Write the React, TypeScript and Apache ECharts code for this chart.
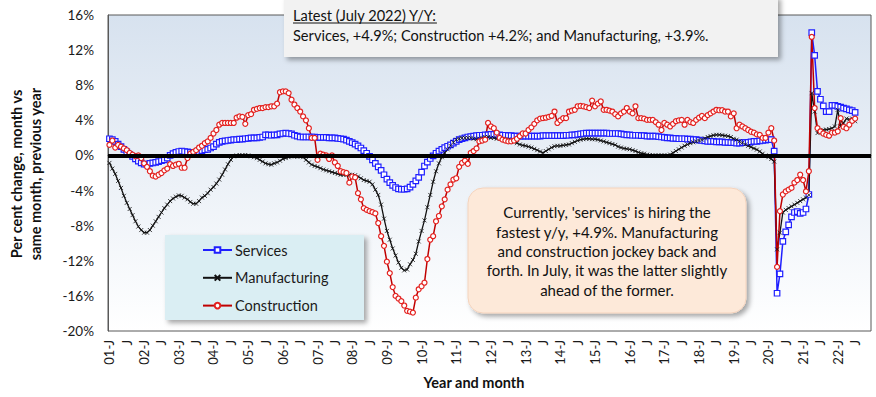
import React, { useEffect, useRef } from "react";
import * as echarts from "echarts";

// Monthly categories, Jan 2001 – Dec 2022 (axis runs a few months past the last data point)
const years: number[] = [];
for (let y = 2001; y <= 2022; y++) years.push(y);
const monthCodes = ["01", "02", "03", "04", "05", "06", "07", "08", "09", "10", "11", "12"];
const categories: string[] = [];
years.forEach((y) => monthCodes.forEach((m) => categories.push(`${y}-${m}`)));

// Y/Y % change, Jan 2001 – Jul 2022
const services: number[] = [
  1.9, 1.8, 1.6, 1.3, 1.0, 0.7, 0.4, 0.1, -0.1, -0.4, -0.65, -0.85, // 2001
  -1.0, -1.05, -0.9, -0.85, -0.8, -0.7, -0.6, -0.5, -0.3, 0.0, 0.2, 0.35, // 2002
  0.45, 0.5, 0.45, 0.4, 0.35, 0.3, 0.35, 0.45, 0.55, 0.65, 0.7, 0.85, // 2003
  1.0, 1.3, 1.5, 1.6, 1.65, 1.7, 1.75, 1.8, 1.8, 1.85, 1.85, 1.9, // 2004
  1.95, 2.0, 2.0, 2.0, 2.05, 2.1, 2.35, 2.35, 2.3, 2.35, 2.35, 2.45, // 2005
  2.5, 2.55, 2.5, 2.45, 2.3, 2.2, 2.1, 2.1, 2.1, 2.1, 2.1, 2.1, // 2006
  2.05, 2.05, 2.05, 2.05, 2.0, 2.0, 2.0, 1.95, 1.9, 1.85, 1.75, 1.6, // 2007
  1.45, 1.3, 1.1, 0.85, 0.55, 0.25, -0.1, -0.5, -0.9, -1.3, -1.7, -2.2, // 2008
  -2.7, -3.1, -3.4, -3.65, -3.8, -3.85, -3.85, -3.8, -3.6, -3.3, -2.9, -2.5, // 2009
  -1.9, -1.2, -0.75, -0.35, -0.05, 0.25, 0.5, 0.7, 0.9, 1.05, 1.2, 1.4, // 2010
  1.6, 1.8, 1.9, 2.0, 2.1, 2.15, 2.2, 2.25, 2.3, 2.3, 2.35, 2.35, // 2011
  2.4, 2.4, 2.35, 2.35, 2.3, 2.3, 2.25, 2.25, 2.2, 2.2, 2.2, 2.2, // 2012
  2.2, 2.2, 2.2, 2.2, 2.2, 2.2, 2.25, 2.25, 2.25, 2.25, 2.25, 2.25, // 2013
  2.25, 2.25, 2.3, 2.3, 2.35, 2.35, 2.4, 2.45, 2.5, 2.55, 2.55, 2.55, // 2014
  2.55, 2.55, 2.55, 2.55, 2.55, 2.5, 2.5, 2.5, 2.5, 2.45, 2.4, 2.35, // 2015
  2.35, 2.3, 2.3, 2.3, 2.25, 2.25, 2.2, 2.2, 2.2, 2.2, 2.15, 2.1, // 2016
  2.05, 2.0, 2.0, 1.95, 1.95, 1.9, 1.9, 1.9, 1.85, 1.85, 1.8, 1.8, // 2017
  1.75, 1.7, 1.65, 1.6, 1.6, 1.6, 1.55, 1.55, 1.55, 1.5, 1.5, 1.45, // 2018
  1.45, 1.4, 1.4, 1.45, 1.45, 1.5, 1.55, 1.6, 1.6, 1.65, 1.7, 1.75, // 2019
  1.8, 1.8, 0.5, -15.7, -13.5, -9.8, -8.7, -7.9, -7.0, -6.5, -6.4, -6.6, // 2020
  -6.5, -6.1, -4.45, 14.0, 11.4, 7.3, 6.4, 5.65, 5.0, 5.0, 5.7, 5.7, // 2021
  5.6, 5.5, 5.4, 5.3, 5.2, 5.1, 4.9, // 2022
];

const manufacturing: number[] = [
  -0.85, -1.5, -2.1, -2.9, -3.7, -4.6, -5.4, -6.1, -6.8, -7.5, -8.1, -8.5, // 2001
  -8.8, -8.8, -8.5, -8.0, -7.5, -7.0, -6.5, -6.0, -5.6, -5.2, -4.9, -4.7, // 2002
  -4.55, -4.6, -4.8, -5.0, -5.3, -5.5, -5.5, -5.2, -4.8, -4.6, -4.3, -3.9, // 2003
  -3.6, -3.2, -2.75, -2.2, -1.6, -1.0, -0.5, -0.1, 0.0, 0.05, 0.0, 0.05, // 2004
  0.0, -0.1, -0.2, -0.3, -0.5, -0.7, -0.9, -1.0, -1.05, -0.9, -0.8, -0.6, // 2005
  -0.4, -0.3, -0.2, -0.1, -0.1, -0.15, -0.1, -0.2, -0.5, -0.8, -1.05, -1.2, // 2006
  -1.3, -1.45, -1.6, -1.7, -1.8, -1.9, -2.0, -2.1, -2.2, -2.2, -2.2, -2.2, // 2007
  -2.2, -2.25, -2.4, -2.6, -2.8, -2.9, -3.0, -3.3, -3.9, -4.5, -5.6, -7.2, // 2008
  -8.6, -9.6, -10.6, -11.4, -12.2, -12.8, -13.1, -13.0, -12.4, -11.9, -11.2, -9.8, // 2009
  -8.6, -7.4, -5.9, -4.5, -3.0, -1.8, -0.9, -0.2, 0.3, 0.7, 1.1, 1.5, // 2010
  1.8, 1.9, 2.0, 2.0, 2.0, 2.0, 1.9, 1.85, 1.9, 2.0, 2.1, 2.1, // 2011
  2.0, 2.0, 1.9, 1.9, 1.9, 1.85, 1.8, 1.7, 1.55, 1.4, 1.25, 1.15, // 2012
  1.1, 1.0, 0.9, 0.75, 0.6, 0.45, 0.3, 0.5, 0.7, 0.9, 1.05, 1.1, // 2013
  1.1, 1.15, 1.2, 1.25, 1.4, 1.55, 1.7, 1.8, 1.85, 1.9, 1.9, 1.85, // 2014
  1.85, 1.8, 1.7, 1.6, 1.5, 1.4, 1.3, 1.2, 1.0, 0.9, 0.8, 0.75, // 2015
  0.7, 0.6, 0.5, 0.35, 0.25, 0.2, 0.1, 0.05, 0.0, 0.0, 0.0, 0.0, // 2016
  0.0, 0.0, 0.1, 0.3, 0.5, 0.7, 0.9, 1.1, 1.25, 1.4, 1.5, 1.6, // 2017
  1.7, 1.8, 1.95, 2.1, 2.2, 2.3, 2.35, 2.35, 2.3, 2.25, 2.2, 2.1, // 2018
  1.9, 1.8, 1.6, 1.45, 1.25, 1.1, 0.95, 0.8, 0.66, 0.45, 0.2, 0.0, // 2019
  -0.2, -0.4, -0.7, -10.7, -8.8, -6.5, -6.2, -6.0, -5.8, -5.6, -5.4, -5.2, // 2020
  -5.0, -4.8, -4.5, 7.1, 5.0, 2.55, 2.8, 2.9, 2.95, 3.0, 3.1, 3.3, // 2021
  5.2, 3.3, 3.7, 4.2, 4.1, 4.2, 3.9, // 2022
];

const construction: number[] = [
  1.2, 1.7, 0.9, 1.2, 1.0, 0.8, 0.6, 0.3, 0.1, -0.1, 0.0, -0.3, // 2001
  -0.9, -1.3, -1.8, -2.3, -2.4, -2.2, -2.0, -1.7, -1.5, -1.0, -1.2, -1.05, // 2002
  -0.95, -1.4, -1.4, -0.3, 0.2, 0.4, 0.6, 0.9, 1.1, 1.4, 1.6, 2.0, // 2003
  2.5, 2.9, 3.5, 3.7, 3.7, 3.7, 3.7, 3.7, 4.3, 4.45, 4.4, 3.6, // 2004
  4.6, 4.7, 5.2, 5.3, 5.4, 5.4, 5.5, 5.5, 5.6, 5.6, 5.9, 7.2, // 2005
  7.3, 7.3, 7.1, 6.35, 5.8, 5.4, 5.0, 4.45, 4.0, 3.1, 2.0, 2.0, // 2006
  -0.5, 0.2, 0.1, 0.0, -0.4, 0.0, -0.8, -1.2, -1.8, -1.9, -2.0, -3.1, // 2007
  -2.4, -2.5, -4.3, -5.0, -6.0, -6.2, -6.35, -6.45, -6.6, -7.7, -9.2, -10.3, // 2008
  -12.1, -13.4, -15.0, -16.0, -16.3, -16.6, -17.1, -17.7, -17.8, -17.9, -16.2, -15.25, // 2009
  -14.9, -14.5, -11.8, -9.6, -9.2, -7.5, -6.9, -5.8, -5.0, -3.9, -3.3, -2.75, // 2010
  -2.6, -1.3, -0.85, -0.6, -0.95, 0.3, 0.5, 0.8, 1.6, 1.7, 1.8, 3.7, // 2011
  3.3, 3.1, 2.6, 2.0, 1.8, 1.7, 1.6, 1.6, 1.7, 1.9, 2.2, 2.5, // 2012
  2.5, 2.9, 3.2, 3.6, 4.0, 4.2, 4.25, 4.3, 4.4, 4.5, 5.0, 3.7, // 2013
  4.0, 4.25, 4.25, 5.0, 5.1, 5.2, 5.6, 5.65, 5.6, 5.5, 5.4, 6.25, // 2014
  5.6, 5.9, 6.15, 5.2, 5.2, 5.1, 5.0, 4.7, 4.45, 4.8, 5.0, 5.4, // 2015
  5.0, 4.8, 5.6, 4.25, 4.25, 4.2, 4.05, 4.05, 4.05, 3.8, 3.5, 2.9, // 2016
  3.7, 3.5, 3.3, 3.6, 3.9, 4.0, 4.05, 3.5, 4.05, 3.8, 3.7, 4.05, // 2017
  4.3, 4.5, 4.25, 4.6, 4.8, 5.0, 5.2, 5.15, 5.15, 5.0, 5.0, 4.45, // 2018
  4.8, 3.1, 3.5, 3.3, 3.1, 2.9, 2.7, 2.6, 2.4, 2.35, 2.0, 2.0, // 2019
  2.6, 3.1, 1.7, -12.7, -6.35, -4.45, -4.1, -3.9, -3.7, -3.1, -2.8, -2.2, // 2020
  -2.8, -4.1, -1.8, 13.5, 5.4, 3.1, 2.75, 2.5, 2.35, 2.25, 2.6, 2.6, // 2021
  2.75, 4.25, 3.25, 3.1, 3.5, 3.95, 4.2, // 2022
];

const seriesNames = ["Services", "Manufacturing", "Construction"];
const yTickFormat = "{value}%";
const yAxisTitle = "Per cent change, month vs\nsame month, previous year";
const xAxisTitle = "Year and month";
const latestTitle = "Latest (July 2022) Y/Y:";
const latestText = "Services, +4.9%; Construction +4.2%; and Manufacturing, +3.9%.";
const noteText =
  "Currently, 'services' is hiring the\nfastest y/y, +4.9%. Manufacturing\nand construction jockey back and\nforth. In July, it was the latter slightly\nahead of the former.";

const FONT = "Lato, 'Open Sans', sans-serif";

function measure(text: string, font: string): number {
  const c = document.createElement("canvas").getContext("2d");
  if (!c) return text.length * 7;
  c.font = font;
  return c.measureText(text).width;
}

export default function App() {
  const ref = useRef<HTMLDivElement>(null);

  useEffect(() => {
    if (!ref.current) return;
    const chart = echarts.init(ref.current, undefined, { renderer: "svg" });

    const boxFontSize = 14.6;
    const titleW = measure(latestTitle, `${boxFontSize}px Lato`);

    const option: any = {
      animation: false,
      backgroundColor: "#ffffff",
      grid: {
        left: 108,
        right: 5,
        top: 15,
        bottom: 66,
        show: true,
        borderColor: "#595959",
        borderWidth: 1,
        backgroundColor: new echarts.graphic.LinearGradient(0, 0, 0, 1, [
          { offset: 0, color: "#d7e2ef" },
          { offset: 1, color: "#ffffff" },
        ]),
      },
      xAxis: {
        type: "category",
        data: categories,
        boundaryGap: true,
        axisLine: { show: true, lineStyle: { color: "#595959", width: 1 } },
        axisTick: { show: false },
        axisLabel: {
          interval: (i: number) => i % 6 === 0,
          rotate: 90,
          margin: 9,
          fontSize: 13,
          fontFamily: FONT,
          color: "#1a1a1a",
          formatter: (v: string) => {
            const [y, m] = v.split("-");
            return m === "01" ? `${y.slice(2)}-J` : "J";
          },
        },
        splitLine: { show: false },
      },
      yAxis: {
        type: "value",
        min: -20,
        max: 16,
        interval: 4,
        axisLine: { show: true, lineStyle: { color: "#595959", width: 1 } },
        axisTick: { show: false },
        splitLine: { show: false },
        axisLabel: {
          formatter: yTickFormat,
          fontSize: 13.5,
          margin: 14,
          fontFamily: FONT,
          color: "#1a1a1a",
        },
      },
      legend: {
        data: seriesNames,
        orient: "vertical",
        left: 166,
        top: 235,
        padding: [7.5, 10, 6, 36],
        itemGap: 12.8,
        itemWidth: 29,
        itemHeight: 7,
        z: 10,
        textStyle: { fontSize: 14.5, fontFamily: FONT, color: "#1a1a1a", padding: [0, 0, 0, -2] },
      },
      graphic: {
        elements: [
          {
            type: "rect",
            z: 5,
            shape: { x: 165, y: 235, width: 199, height: 85 },
            style: {
              fill: "#daeef3",
              shadowBlur: 5,
              shadowOffsetX: 3,
              shadowOffsetY: 3,
              shadowColor: "rgba(0,0,0,0.35)",
            },
          },
          {
            type: "rect",
            z: 5,
            shape: { x: 284, y: -4, width: 494, height: 61 },
            style: {
              fill: "#f2f2f2",
              shadowBlur: 5,
              shadowOffsetX: 3,
              shadowOffsetY: 3,
              shadowColor: "rgba(0,0,0,0.35)",
            },
          },
          {
            type: "text",
            z: 6,
            x: 293,
            y: 15,
            style: {
              text: latestTitle,
              fontSize: boxFontSize,
              fontFamily: FONT,
              fill: "#111",
              verticalAlign: "middle",
              align: "left",
            },
          },
          {
            type: "line",
            z: 6,
            shape: { x1: 293, y1: 23, x2: 293 + titleW, y2: 23 },
            style: { stroke: "#111", lineWidth: 1 },
          },
          {
            type: "text",
            z: 6,
            x: 293,
            y: 35,
            style: {
              text: latestText,
              fontSize: boxFontSize,
              fontFamily: FONT,
              fill: "#111",
              verticalAlign: "middle",
              align: "left",
            },
          },
          {
            type: "rect",
            z: 5,
            shape: { x: 468, y: 188, width: 278, height: 125, r: 15 },
            style: {
              fill: "#fde9d9",
              stroke: "#f4d3bd",
              lineWidth: 1,
              shadowBlur: 5,
              shadowOffsetX: 3,
              shadowOffsetY: 3,
              shadowColor: "rgba(0,0,0,0.35)",
            },
          },
          {
            type: "text",
            z: 6,
            x: 607,
            y: 251,
            style: {
              text: noteText,
              fontSize: 15,
              lineHeight: 19.3,
              fontFamily: FONT,
              fill: "#111",
              align: "center",
              verticalAlign: "middle",
            },
          },
          {
            type: "text",
            z: 6,
            x: 26,
            y: 174,
            rotation: Math.PI / 2,
            style: {
              text: yAxisTitle,
              fontSize: 14.5,
              fontWeight: "bold",
              lineHeight: 19,
              fontFamily: FONT,
              fill: "#111",
              align: "center",
              verticalAlign: "middle",
            },
          },
          {
            type: "text",
            z: 6,
            x: 474,
            y: 382,
            style: {
              text: xAxisTitle,
              fontSize: 14.5,
              fontWeight: "bold",
              fontFamily: FONT,
              fill: "#111",
              align: "center",
              verticalAlign: "middle",
            },
          },
        ],
      },
      series: [
        {
          name: seriesNames[0],
          type: "line",
          data: services,
          symbol: "rect",
          symbolSize: 5.5,
          showAllSymbol: true,
          lineStyle: { color: "#1f1fff", width: 1.5 },
          itemStyle: { color: "#ffffff", borderColor: "#1f1fff", borderWidth: 1.2 },
          markLine: {
            silent: true,
            symbol: "none",
            label: { show: false },
            lineStyle: { color: "#000000", width: 4, type: "solid" },
            data: [{ yAxis: 0 }],
          },
        },
        {
          name: seriesNames[1],
          type: "line",
          data: manufacturing,
          symbol: "path://M0 0L10 10M10 0L0 10",
          symbolSize: 4,
          showAllSymbol: true,
          lineStyle: { color: "#111111", width: 1.3 },
          itemStyle: { color: "#111111", borderColor: "#111111", borderWidth: 0.8 },
        },
        {
          name: seriesNames[2],
          type: "line",
          data: construction,
          symbol: "circle",
          symbolSize: 5,
          showAllSymbol: true,
          lineStyle: { color: "#c00000", width: 1.5 },
          itemStyle: { color: "#ffffff", borderColor: "#e3211f", borderWidth: 1.2 },
        },
      ],
    };

    chart.setOption(option);
    return () => chart.dispose();
  }, []);

  return (
    <div
      ref={ref}
      style={{ position: "absolute", left: 0, top: 0, width: 876, height: 397, background: "#fff" }}
    />
  );
}
